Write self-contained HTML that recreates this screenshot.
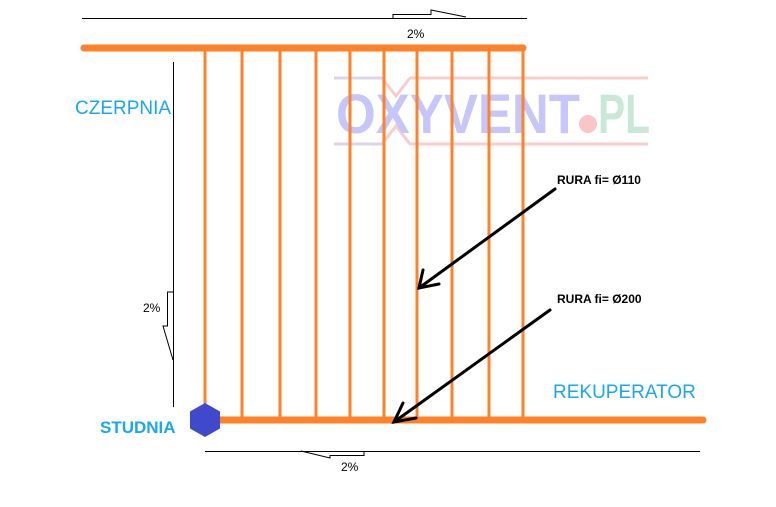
<!DOCTYPE html>
<html><head><meta charset="utf-8"><style>body{margin:0;background:#fff}svg{display:block}</style></head><body>
<svg width="776" height="507" viewBox="0 0 776 507" xmlns="http://www.w3.org/2000/svg" font-family="Liberation Sans, sans-serif">
<rect width="776" height="507" fill="#fff"/>
<!-- logo -->
<g opacity="0.9">
<path d="M334 78 L382 78 L396 96 L410 78 L648 78" stroke="#f8c8c8" stroke-width="3" fill="none"/>
<path d="M334 144 L382 144 L396 126 L410 144 L648 144" stroke="#f8c8c8" stroke-width="3" fill="none"/>
<path d="M334 78 L382 78 M334 144 L382 144" stroke="#d8d0e8" stroke-width="3" fill="none"/>
<text x="336" y="133" font-size="56" font-weight="bold" fill="#c0c0fa" textLength="244" lengthAdjust="spacingAndGlyphs">OXYVENT</text>
<circle cx="588" cy="124" r="9" fill="#f8c0c0"/>
<text x="598" y="133" font-size="56" font-weight="bold" fill="#c4e6d4" textLength="52" lengthAdjust="spacingAndGlyphs">PL</text>
</g>
<!-- dimension lines -->
<g stroke="#000" stroke-width="1" fill="none">
<line x1="82" y1="18.5" x2="527" y2="18.5"/>
<path d="M393 18 V14.5 H431 V10 L466 17"/>
<line x1="173.5" y1="62" x2="173.5" y2="407"/>
<path d="M173 292 H167.5 V326 H163 L173 360"/>
<line x1="205" y1="451.5" x2="700" y2="451.5"/>
<path d="M301 451 L330 458 V455.5 H364 V451"/>
</g>
<text x="407" y="38" font-size="12" fill="#000">2%</text>
<text x="143" y="312" font-size="12" fill="#000">2%</text>
<text x="341" y="471" font-size="12" fill="#000">2%</text>
<!-- pipes -->
<g stroke="#ff8228" stroke-width="3">
<line x1="205" y1="48" x2="205" y2="420"/>
<line x1="242" y1="48" x2="242" y2="420"/>
<line x1="280" y1="48" x2="280" y2="420"/>
<line x1="316" y1="48" x2="316" y2="420"/>
<line x1="350" y1="48" x2="350" y2="420"/>
<line x1="384" y1="48" x2="384" y2="420"/>
<line x1="417" y1="48" x2="417" y2="420"/>
<line x1="452" y1="48" x2="452" y2="420"/>
<line x1="489" y1="48" x2="489" y2="420"/>
<line x1="523" y1="48" x2="523" y2="420"/>
</g>
<line x1="84" y1="48" x2="523" y2="48" stroke="#ff8228" stroke-width="7" stroke-linecap="round"/>
<line x1="205" y1="420" x2="703" y2="420" stroke="#ff8228" stroke-width="7" stroke-linecap="round"/>
<polygon points="205,403 220,411.5 220,428.5 205,437 190,428.5 190,411.5" fill="#4048cc"/>
<!-- arrows -->
<g stroke="#000" stroke-width="3" fill="none" stroke-linecap="round">
<line x1="555" y1="189" x2="419" y2="288"/>
<path d="M423 270 L419 288 L439 284"/>
<line x1="550" y1="310" x2="394" y2="422"/>
<path d="M403 403 L394 422 L416 418"/>
</g>
<text x="557" y="184" font-size="12" font-weight="bold" fill="#000">RURA fi= Ø110</text>
<text x="557" y="303" font-size="12" font-weight="bold" fill="#000">RURA fi= Ø200</text>
<text x="75" y="114" font-size="19" fill="#1aa8ec">CZERPNIA</text>
<text x="553" y="398" font-size="19" fill="#1aa8ec">REKUPERATOR</text>
<text x="100" y="433" font-size="17" font-weight="bold" fill="#1aa8ec">STUDNIA</text>
</svg>
</body></html>
